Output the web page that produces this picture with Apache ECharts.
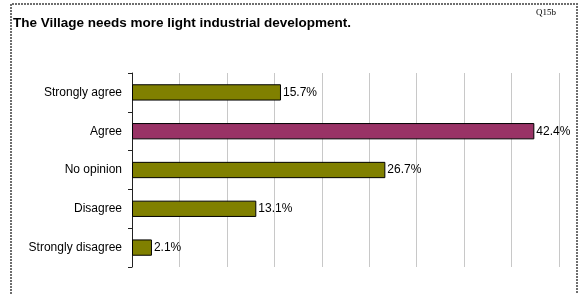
<!DOCTYPE html>
<html>
<head>
<meta charset="utf-8">
<script src="https://cdn.jsdelivr.net/npm/echarts@6/dist/echarts.min.js"></script>
<style>
  html, body { margin: 0; padding: 0; background: #fff; }
  #chart { width: 579px; height: 294px; }
</style>
</head>
<body>
<div id="chart"></div>
<script>
// answer categories, top to bottom
const categories = ['Strongly agree', 'Agree', 'No opinion', 'Disagree', 'Strongly disagree']
// percentage of responses
const values = [15.7, 42.4, 26.7, 13.1, 2.1]
// the highlighted answer gets its own colour
const barColors = ['#808000', '#993366', '#808000', '#808000', '#808000']

const chart = echarts.init(document.getElementById('chart'))

const option = {
  backgroundColor: '#fff',
  animation: false,
  title: [
    {
      text: 'The Village needs more light industrial development.',
      left: 8,
      top: 11,
      textStyle: { fontFamily: 'Liberation Sans, Arial', fontSize: 13.5, fontWeight: 'bold', color: '#000' }
    },
    {
      text: 'Q15b',
      right: 18,
      top: 3,
      textStyle: { fontFamily: 'Liberation Serif, Times New Roman', fontSize: 9, fontWeight: 'normal', color: '#000' }
    }
  ],
  // dotted frame round the chart (no bottom edge in the picture)
  graphic: [
    {
      type: 'polyline',
      shape: { points: [[11, 294], [11, 4], [577, 4], [577, 294]] },
      style: { stroke: '#6e6e6e', lineWidth: 2, lineDash: [2, 1], fill: null }
    }
  ],
  grid: { left: 132, right: 20, top: 73, bottom: 27 },
  xAxis: {
    type: 'value',
    min: 0,
    max: 45,
    interval: 5,
    axisLine: { show: false },
    axisTick: { show: false },
    axisLabel: { show: false },
    splitLine: { lineStyle: { color: '#c8c8c8', width: 1 } }
  },
  yAxis: {
    type: 'category',
    data: categories,
    inverse: true,
    axisLine: { lineStyle: { color: '#222', width: 1 } },
    axisTick: { show: true, length: 4, inside: false, lineStyle: { color: '#222' } },
    axisLabel: { margin: 10, fontFamily: 'Liberation Sans, Arial', fontSize: 12, color: '#000' }
  },
  series: [
    {
      type: 'bar',
      data: values.map((v, i) => ({ value: v, itemStyle: { color: barColors[i] } })),
      barCategoryGap: '58%',
      itemStyle: { borderColor: '#000', borderWidth: 1 },
      label: {
        show: true,
        position: 'right',
        distance: 2,
        formatter: p => p.value.toFixed(1) + '%',
        fontFamily: 'Liberation Sans, Arial',
        fontSize: 12,
        color: '#000'
      }
    }
  ]
}

chart.setOption(option)
</script>
</body>
</html>
